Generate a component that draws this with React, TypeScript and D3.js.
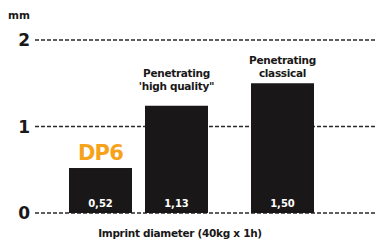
import React from 'react'
import * as d3 from 'd3'

// values as drawn in the picture (bar heights) and the printed labels
const categories = ['DP6', 'Penetrating high quality', 'Penetrating classical']
const barValues = [0.52, 1.24, 1.5]
const valueLabels = ['0,52', '1,13', '1,50']
const topLabels = [[], ['Penetrating', "'high quality\""], ['Penetrating', 'classical']]
const yTicks = [0, 1, 2]
const unitLabel = 'mm'
const axisTitle = 'Imprint diameter (40kg x 1h)'
const highlight = 'DP6'

const W = 376
const H = 245
// the middle bar sits a bit left of an even spacing in the original
const xNudge = [0, -15, 0]
const labelGap = [0, 16, 6]

const App = () => {
  const x = d3
    .scaleBand<string>()
    .domain(categories)
    .range([69, 314])
    .paddingInner(0.3077)
    .paddingOuter(0)

  const y = d3.scaleLinear().domain([0, 2]).range([213, 40])

  const font = '"DejaVu Sans", sans-serif'

  return (
    <svg
      width={W}
      height={H}
      style={{ position: 'absolute', left: 0, top: 0, background: '#fff' }}
    >
      {/* dashed grid */}
      {yTicks.map(t => (
        <g key={t}>
          <line
            x1={35}
            x2={W}
            y1={y(t)}
            y2={y(t)}
            stroke="#2a2a2a"
            strokeWidth={1.4}
            strokeDasharray="4,2"
          />
          <text
            x={30}
            y={y(t) + 6}
            textAnchor="end"
            fontFamily={font}
            fontWeight="bold"
            fontSize={17}
            fill="#1a1718"
          >
            {t}
          </text>
        </g>
      ))}
      <text x={8} y={19} fontFamily={font} fontWeight="bold" fontSize={10.5} fill="#1a1718">
        {unitLabel}
      </text>

      {categories.map((c, i) => {
        const bx = (x(c) as number) + xNudge[i]
        const bw = x.bandwidth()
        const top = y(barValues[i])
        const cx = bx + bw / 2
        const lines = topLabels[i]
        return (
          <g key={c}>
            <rect x={bx} y={top} width={bw} height={y(0) - top} fill="#1a1718" />
            <text
              x={cx}
              y={y(0) - 6}
              textAnchor="middle"
              fontFamily={font}
              fontWeight="bold"
              fontSize={10}
              fill="#fff"
            >
              {valueLabels[i]}
            </text>
            {lines.map((l, j) => (
              <text
                key={j}
                x={cx}
                y={top - labelGap[i] - (lines.length - 1 - j) * 13}
                textAnchor="middle"
                fontFamily={font}
                fontWeight="bold"
                fontSize={10.5}
                letterSpacing={-0.3}
                fill="#1a1718"
              >
                {l}
              </text>
            ))}
            {c === highlight && (
              <text
                x={cx}
                y={top - 8}
                textAnchor="middle"
                fontFamily={font}
                fontWeight="bold"
                fontSize={21}
                letterSpacing={-0.8}
                fill="#f7a21b"
              >
                {c}
              </text>
            )}
          </g>
        )
      })}

      <text
        x={180}
        y={237}
        textAnchor="middle"
        fontFamily={font}
        fontWeight="bold"
        fontSize={10.5}
        letterSpacing={-0.3}
        fill="#1a1718"
      >
        {axisTitle}
      </text>
    </svg>
  )
}

export default App
